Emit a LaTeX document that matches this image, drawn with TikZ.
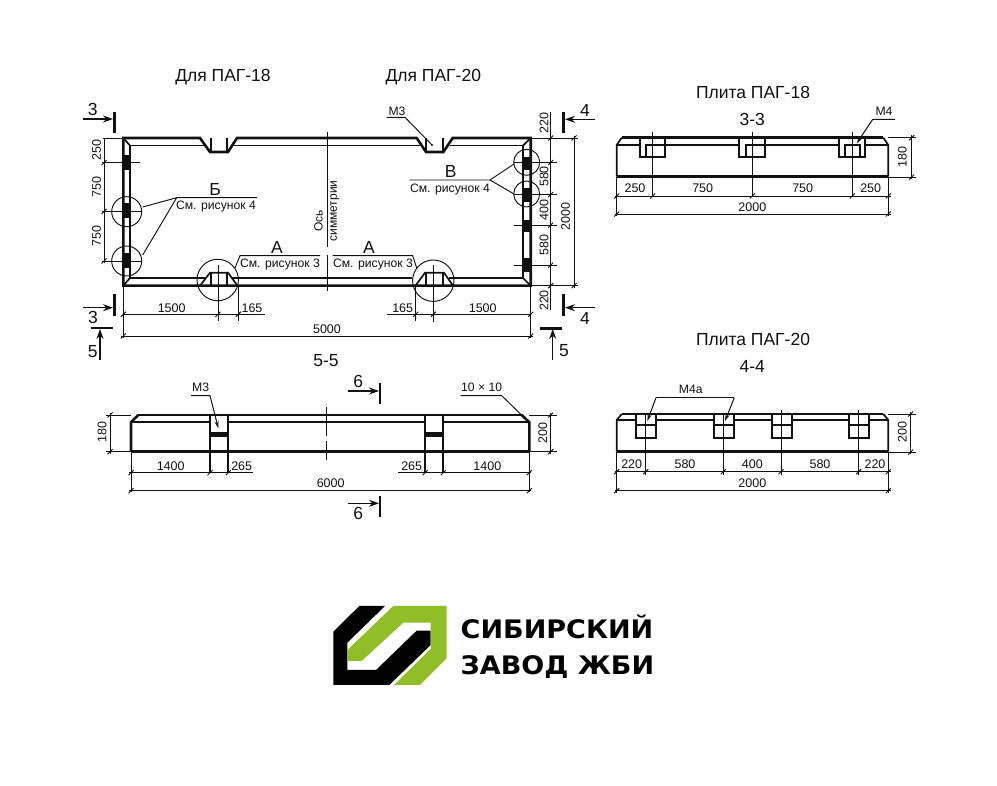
\documentclass[tikz,border=0pt]{standalone}
\usepackage{fontspec}
\setmainfont{Liberation Sans}
\newfontfamily\logofont{DejaVu Sans}[FakeStretch=1.06]
\usetikzlibrary{arrows.meta}
\definecolor{ink}{HTML}{111111}
\definecolor{logogreen}{HTML}{8FBE26}
\newcounter{lbl}
\newcommand\plab[4]{\stepcounter{lbl}\node[#1] (lab\arabic{lbl}) at (#2,#3) {#4};}
\newcommand\tk[2]{\draw[dimline] (#1-2.5,#2+2.5) -- (#1+2.5,#2-2.5);}
\tikzset{
 x=1pt,y=-1pt,
 heavy/.style={draw=ink,line width=2.6pt,line join=miter},
 medium/.style={draw=ink,line width=1.7pt},
 dimline/.style={draw=ink,line width=0.95pt},
 secbar/.style={draw=ink,line width=2.8pt},
 secarrow/.style={draw=ink,line width=1.2pt,-{Stealth[length=10pt,width=7pt]}},
 dimtext/.style={font=\fontsize{12.5}{13}\selectfont,inner sep=0pt,text=ink},
 reftext/.style={font=\fontsize{12.2}{13}\selectfont,inner sep=0pt,text=ink},
 bigtext/.style={font=\fontsize{17.5}{18}\selectfont,inner sep=0pt,text=ink},
 titletext/.style={font=\fontsize{17.5}{18}\selectfont,inner sep=0pt,text=ink},
 vdim/.style={dimtext,rotate=90},
 leaderarrow/.style={draw=ink,line width=1pt,-{Stealth[length=7pt,width=4pt]}},
}
\begin{document}
\begin{tikzpicture}
\useasboundingbox (0,0) rectangle (997,786);
\fill[white] (0,0) rectangle (997,786);

% ---------- plan ----------
\draw[medium] (130,278) -- (205,278);
\draw[medium] (232,278) -- (327,278) (327,278) -- (412,278);
\draw[medium] (449,278) -- (523,278);
\draw[medium] (130,145.6) -- (204,145.6);
\draw[medium] (233.5,145.6) -- (420,145.6);
\draw[medium] (449.5,145.6) -- (523,145.6);
\draw[medium] (130,145.6) -- (130,278) (523,145.6) -- (523,278);
\draw[heavy] (123.3,285.7) -- (123.3,138) -- (200,138) -- (210,152) -- (228,152) -- (237,138)
  -- (416.7,138) -- (426,152) -- (443.3,152) -- (452.7,138) -- (530.7,138) -- (530.7,285.7) -- cycle;
\draw[medium] (123.3,138) -- (130,145.6) (530.7,138) -- (523,145.6) (123.3,285.7) -- (130,278) (530.7,285.7) -- (523,278);
\draw[medium] (210.7,138) -- (210.7,152) (227,138) -- (227,152) (426,138) -- (426,152) (442.7,138) -- (442.7,152);
% bottom notches
\draw[medium] (200,285.7) -- (210,272.7) -- (228,272.7) -- (237.5,285.7);
\draw[medium] (210.7,272.7) -- (210.7,285.7) (227,272.7) -- (227,285.7);
\draw[medium] (415.5,285.7) -- (425,272.7) -- (444,272.7) -- (453,285.7);
\draw[medium] (426,272.7) -- (426,285.7) (442.7,272.7) -- (442.7,285.7);
% black lifting strips
\foreach \a/\b in {155/170,203/218,253/268}{\fill[ink] (123.3,\a) rectangle (130,\b);}
\foreach \a/\b in {156.7/170,188/201.7,220/231.7,258/271.7}{\fill[ink] (523,\a) rectangle (530.7,\b);}
% circles
\draw[dimline] (126.7,211.7) circle[radius=15] (126.7,261) circle[radius=15];
\draw[dimline] (526.7,162.3) circle[radius=13] (526.7,194) circle[radius=13];
\draw[dimline] (217.7,280) circle[radius=20.7] (433.3,280.7) circle[radius=20.7];
\draw[dimline] (102,162.7) -- (140,162.7) (102,211.5) -- (142,211.5) (102,261) -- (142,261);
\draw[dimline] (514,162.5) -- (557,162.5) (514,194.5) -- (557,194.5) (514,225) -- (557,225) (514,265) -- (557,265);
\draw[dimline] (218,265) -- (218,321) (433.3,265) -- (433.3,321.7);
% axis
\draw[dimline] (327.3,132) -- (327.3,247) (327.3,255) -- (327.3,291);
\plab{vdim,font=\fontsize{12}{13}\selectfont}{318.5}{221}{Ось}
\plab{vdim,font=\fontsize{12}{13}\selectfont}{335}{211}{симметрии}
% left dimension chain
\draw[dimline] (103,138) -- (123.3,138) (104,138) -- (104,263);
\foreach \y in {162.7,211.5,261}{\tk{104}{\y}}
\plab{vdim}{96.5}{150}{250}
\plab{vdim}{96.5}{187}{750}
\plab{vdim}{96.5}{236}{750}
% right dimension chain
\draw[dimline] (530.7,138) -- (578,138) (530.7,285.7) -- (578,285.7);
\draw[dimline] (550.7,112) -- (550.7,310) (574,136) -- (574,288);
\foreach \y in {138,162.5,194.5,225,265,285.7}{\tk{550.7}{\y}}
\tk{574}{138}\tk{574}{285.7}
\plab{vdim}{544}{123}{220}
\plab{vdim}{544}{176.5}{580}
\plab{vdim}{544}{210}{400}
\plab{vdim}{544}{245}{580}
\plab{vdim}{544}{300.5}{220}
\plab{vdim}{565.5}{216.5}{2000}
% bottom dimensions
\draw[dimline] (123.3,285.7) -- (123.3,338) (530.7,285.7) -- (530.7,338) (238.3,285) -- (238.3,321) (415.7,285) -- (415.7,321);
\draw[dimline] (123.3,314.3) -- (265,314.3) (386.7,314.3) -- (530.7,314.3) (121,336) -- (533,336);
\foreach \x in {123.3,218,238.3,415.7,433.3,530.7}{\tk{\x}{314.3}}
\tk{123.3}{336}\tk{530.7}{336}
\plab{dimtext}{171.7}{308}{1500}
\plab{dimtext}{252}{308}{165}
\plab{dimtext}{402.7}{308}{165}
\plab{dimtext}{482.7}{308}{1500}
\plab{dimtext}{327}{329}{5000}
% labels on plan
\draw[dimline] (257,197.7) -- (176.7,197.7) -- (142.7,207) (176.7,197.7) -- (142.7,255);
\plab{bigtext}{215}{189.5}{Б}
\plab{reftext}{216}{206.5}{См. рисунок 4}
\draw[dimline] (320,255.7) -- (240,255.7) -- (235,268);
\plab{bigtext}{277}{247.5}{А}
\plab{reftext}{280}{265}{См. рисунок 3}
\draw[dimline] (332.7,255.7) -- (412.7,255.7) -- (416.7,268);
\plab{bigtext}{369}{247.5}{А}
\plab{reftext}{373}{265}{См. рисунок 3}
\draw[dimline] (409.3,180) -- (490,180) -- (514,164) (490,180) -- (514,194);
\plab{bigtext}{450.7}{171}{В}
\plab{reftext}{450}{190}{См. рисунок 4}
\draw[dimline] (386.7,117.3) -- (405,117.3) -- (432,145);
\fill[ink] (432,145) circle[radius=1.2];
\plab{reftext}{397}{111}{М3}
\plab{titletext}{223}{76.7}{Для ПАГ-18}
\plab{titletext}{433.3}{76.7}{Для ПАГ-20}
% section marks
\draw[secarrow] (83,119) -- (113,119);
\draw[secbar] (114.3,112) -- (114.3,133);
\plab{bigtext}{92.7}{109}{3}
\draw[secarrow] (83,307.7) -- (113,307.7);
\draw[secbar] (114.3,294) -- (114.3,316);
\plab{bigtext}{93}{317}{3}
\draw[secbar] (90.7,328) -- (112.7,328);
\draw[secarrow] (100,360) -- (100,329);
\plab{bigtext}{92.7}{351.5}{5}
\draw[secarrow] (595,119.3) -- (565,119.3);
\draw[secbar] (563.3,111.7) -- (563.3,132.7);
\plab{bigtext}{585}{110}{4}
\draw[secarrow] (595,307.7) -- (565,307.7);
\draw[secbar] (563.3,294.3) -- (563.3,315.7);
\plab{bigtext}{585}{318}{4}
\draw[secbar] (540,328.3) -- (561.7,328.3);
\draw[secarrow] (552.7,360) -- (552.7,329);
\plab{bigtext}{564}{350.7}{5}

% ---------- section 3-3 ----------
\plab{titletext}{753}{92}{Плита ПАГ-18}
\plab{bigtext}{752.3}{119.3}{3-3}
\draw[heavy] (616.7,176.7) -- (888.3,176.7);
\draw[heavy] (621.7,137.7) -- (883.3,137.7);
\draw[medium] (616.7,176.7) -- (616.7,145) -- (621.7,137.7) (888.3,176.7) -- (888.3,145) -- (883.3,137.7);
\draw[medium] (616.7,145) -- (888.3,145);
\foreach \a/\b/\c/\d in {640/665/645.7/665,739.3/765/745.7/765,839.3/865/845/860}{
 \fill[white] (\a,139.2) rectangle (\b,157.3);
 \draw[medium] (\a,137.7) -- (\a,157.3) -- (\b,157.3) -- (\b,137.7);
 \draw[medium] (\c,157.3) -- (\c,145) -- (\d,145) -- (\d,157.3);
}
\draw[dimline] (652.7,131.7) -- (652.7,196.7) (752.3,131.7) -- (752.3,196.7) (852.3,131.7) -- (852.3,196.7);
\draw[dimline] (616.7,176.7) -- (616.7,216) (888.3,176.7) -- (888.3,216);
\draw[dimline] (614.5,196) -- (890.5,196) (614.5,214) -- (890.5,214);
\foreach \x in {616.7,652.7,752.3,852.3,888.3}{\tk{\x}{196}}
\tk{616.7}{214}\tk{888.3}{214}
\plab{dimtext}{635}{188.3}{250}
\plab{dimtext}{702.7}{188.3}{750}
\plab{dimtext}{802.7}{188.3}{750}
\plab{dimtext}{870.7}{188.3}{250}
\plab{dimtext}{752.3}{207.3}{2000}
\draw[dimline] (888,137.7) -- (916,137.7) (888,177) -- (916,177) (911.7,135.5) -- (911.7,179);
\tk{911.7}{137.7}\tk{911.7}{177}
\plab{vdim}{902.3}{156.7}{180}
\draw[leaderarrow] (895,119.3) -- (872.7,119.3) -- (856.7,143.3);
\plab{reftext}{884}{111.7}{М4}

% ---------- section 4-4 ----------
\plab{titletext}{753}{339}{Плита ПАГ-20}
\plab{bigtext}{752.3}{366.7}{4-4}
\draw[heavy] (616.7,451.7) -- (888.3,451.7);
\draw[heavy] (621.7,414) -- (883.3,414);
\draw[medium] (616.7,451.7) -- (616.7,420) -- (621.7,414) (888.3,451.7) -- (888.3,420) -- (883.3,414);
\draw[medium] (616.7,420) -- (888.3,420);
\foreach \a/\b in {636/656,714/734,771.7/791.7,849.3/869.3}{
 \fill[white] (\a,415.4) rectangle (\b,437.7);
 \draw[medium] (\a,414) -- (\a,437.7) -- (\b,437.7) -- (\b,414);
 \draw[medium] (\a,425) -- (\b,425);
}
\draw[dimline] (645.7,415) -- (645.7,475) (723.3,415) -- (723.3,475) (781,410) -- (781,475) (858.7,410) -- (858.7,475);
\draw[dimline] (616.7,451.7) -- (616.7,493) (888.3,451.7) -- (888.3,493);
\draw[dimline] (614.5,471.7) -- (890.5,471.7) (614.5,490.7) -- (890.5,490.7);
\foreach \x in {616.7,645.7,723.3,781,858.7,888.3}{\tk{\x}{471.7}}
\tk{616.7}{490.7}\tk{888.3}{490.7}
\plab{dimtext}{631.7}{464}{220}
\plab{dimtext}{685}{464}{580}
\plab{dimtext}{752.3}{464}{400}
\plab{dimtext}{820}{464}{580}
\plab{dimtext}{875}{464}{220}
\plab{dimtext}{752.3}{483.3}{2000}
\draw[dimline] (888,414) -- (916,414) (888,452) -- (916,452) (910.7,412) -- (910.7,454);
\tk{910.7}{414}\tk{910.7}{452}
\plab{vdim}{902.3}{432.3}{200}
\draw[leaderarrow] (656,397.7) -- (647.3,421);
\draw[leaderarrow] (734.3,397.7) -- (725,421);
\draw[dimline] (656,397.7) -- (734.3,397.7);
\plab{reftext}{690.7}{389.3}{М4а}

% ---------- section 5-5 ----------
\plab{bigtext}{326}{361}{5-5}
\draw[heavy] (138.3,415) -- (521.7,415);
\draw[heavy] (131,451.7) -- (529.3,451.7);
\draw[heavy] (131,451.7) -- (131,422.3) -- (138.3,415) (529.3,451.7) -- (529.3,422.3) -- (521.7,415);
\draw[medium] (131,422.3) -- (529.3,422.3);
\foreach \a/\b in {210/228.3,425/443.3}{
 \fill[white] (\a,416.4) rectangle (\b,450.4);
 \draw[medium] (\a,415) -- (\a,472.7) (\b,415) -- (\b,472.7);
 \fill[ink] (\a,431.7) rectangle (\b,437.3);
}
\draw[dimline] (326.7,407) -- (326.7,436) (326.7,441) -- (326.7,460);
\draw[dimline] (106,415) -- (131,415) (106,451.7) -- (131,451.7) (110,413) -- (110,454);
\tk{110}{415}\tk{110}{451.7}
\plab{vdim}{102}{432}{180}
\draw[dimline] (529,415) -- (556.7,415) (529,451.7) -- (556.7,451.7) (550.7,413) -- (550.7,454);
\tk{550.7}{415}\tk{550.7}{451.7}
\plab{vdim}{542.7}{433.3}{200}
\draw[dimline] (131,451.7) -- (131,492.5) (529.3,451.7) -- (529.3,492.5);
\draw[dimline] (129,472.7) -- (253.3,472.7) (398.3,472.7) -- (531.3,472.7) (129,490.7) -- (531.3,490.7);
\foreach \x in {131,210,228.3,425,443.3,529.3}{\tk{\x}{472.7}}
\tk{131}{490.7}\tk{529.3}{490.7}
\plab{dimtext}{170.7}{466}{1400}
\plab{dimtext}{241.7}{466}{265}
\plab{dimtext}{411.7}{466}{265}
\plab{dimtext}{487.3}{466}{1400}
\plab{dimtext}{330.7}{483.3}{6000}
\draw[leaderarrow] (191,395.7) -- (210,395.7) -- (218.3,428.3);
\plab{reftext}{200.7}{387.7}{М3}
\draw[dimline] (460.7,395.7) -- (501.7,395.7) -- (526.7,420);
\plab{reftext}{481.7}{387.7}{10 × 10}
\draw[secarrow] (348.3,391) -- (379,391);
\draw[secbar] (380,383.3) -- (380,404.3);
\plab{bigtext}{358.3}{381.7}{6}
\draw[secarrow] (348.3,503.3) -- (379,503.3);
\draw[secbar] (380,495.7) -- (380,516.7);
\plab{bigtext}{358.3}{513.3}{6}

% ---------- logo ----------
\begin{scope}[shift={(320,590)},x=0.3333pt,y=-0.3333pt]
\fill[black] (40,125) -- (118,48) -- (195,48) -- (82,158) -- (82,240) -- (168,240) -- (290,122) -- (332,122) -- (332,165) -- (208,285) -- (40,285) -- cycle;
\fill[logogreen] (220,48) -- (380,48) -- (380,205) -- (300,285) -- (222,285) -- (332,177) -- (332,98) -- (250,98) -- (125,213) -- (82,213) -- (82,180) -- cycle;
\end{scope}
\node[anchor=base west,inner sep=0pt,font=\logofont\bfseries\fontsize{25.5}{26}\selectfont,text=black] (brand1) at (460.5,638) {СИБИРСКИЙ};
\node[anchor=base west,inner sep=0pt,font=\logofont\bfseries\fontsize{25.5}{26}\selectfont,text=black] (brand2) at (460.5,674) {ЗАВОД ЖБИ};
\end{tikzpicture}
\end{document}
